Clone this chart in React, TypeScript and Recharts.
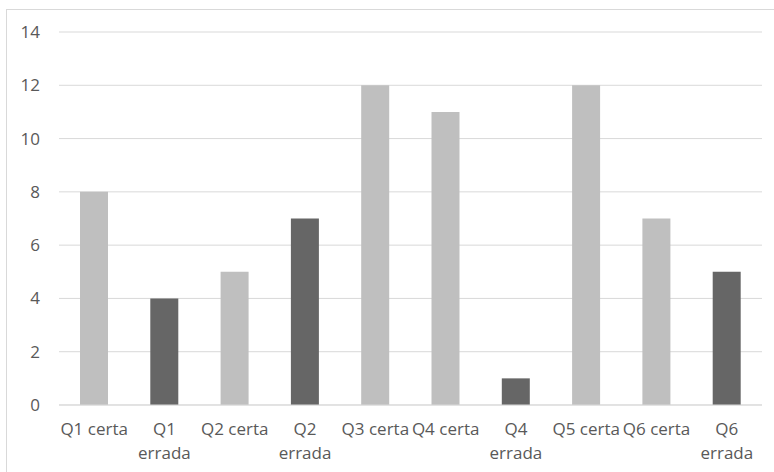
import { Bar, BarChart, CartesianGrid, Cell, XAxis, YAxis } from "recharts";

const categories = [
  "Q1 certa",
  "Q1 errada",
  "Q2 certa",
  "Q2 errada",
  "Q3 certa",
  "Q4 certa",
  "Q4 errada",
  "Q5 certa",
  "Q6 certa",
  "Q6 errada",
];
const values = [8, 4, 5, 7, 12, 11, 1, 12, 7, 5];
const yTicks = [0, 2, 4, 6, 8, 10, 12, 14];

const LIGHT = "#bfbfbf";
const DARK = "#666666";
const GRID = "#d9d9d9";
const TEXT = "#595959";
const FONT = "'Open Sans', sans-serif";

const data = categories.map((name, i) => ({ name, value: values[i] }));

// Long labels wrap onto two lines, like "Q1 / errada".
function CategoryTick({ x, y, payload }: any) {
  const label: string = payload.value;
  const lines = label.length > 8 ? label.split(" ") : [label];
  return (
    <text
      x={x}
      y={y + 30}
      textAnchor="middle"
      fill={TEXT}
      fontSize={17}
      fontFamily={FONT}
    >
      {lines.map((ln, i) => (
        <tspan key={i} x={x} dy={i === 0 ? 0 : 23.5}>
          {ln}
        </tspan>
      ))}
    </text>
  );
}

export default function App() {
  return (
    <div
      style={{
        position: "absolute",
        left: 0,
        top: 0,
        width: 774,
        height: 472,
        overflow: "hidden",
        background: "#fff",
      }}
    >
      {/* chart frame, right and bottom edges fall outside the view */}
      <div
        style={{
          position: "absolute",
          left: 6,
          top: 9,
          width: 820,
          height: 520,
          border: `1px solid ${GRID}`,
        }}
      />
      <div style={{ position: "absolute", left: 0, top: 0 }}>
        <BarChart
          width={774}
          height={472}
          data={data}
          margin={{ top: 32, right: 12, bottom: 37, left: 0 }}
        >
          <CartesianGrid stroke={GRID} vertical={false} />
          <XAxis
            dataKey="name"
            height={30}
            interval={0}
            tickLine={false}
            tickSize={0}
            tickMargin={0}
            axisLine={{ stroke: GRID }}
            tick={<CategoryTick />}
          />
          <YAxis
            width={59}
            domain={[0, 14]}
            ticks={yTicks}
            axisLine={false}
            tickLine={false}
            tickSize={0}
            tickMargin={19}
            tick={{ fill: TEXT, fontSize: 17, fontFamily: FONT }}
          />
          <Bar dataKey="value" barSize={28} isAnimationActive={false}>
            {data.map((d, i) => (
              <Cell key={i} fill={d.name.includes("errada") ? DARK : LIGHT} />
            ))}
          </Bar>
        </BarChart>
      </div>
    </div>
  );
}
